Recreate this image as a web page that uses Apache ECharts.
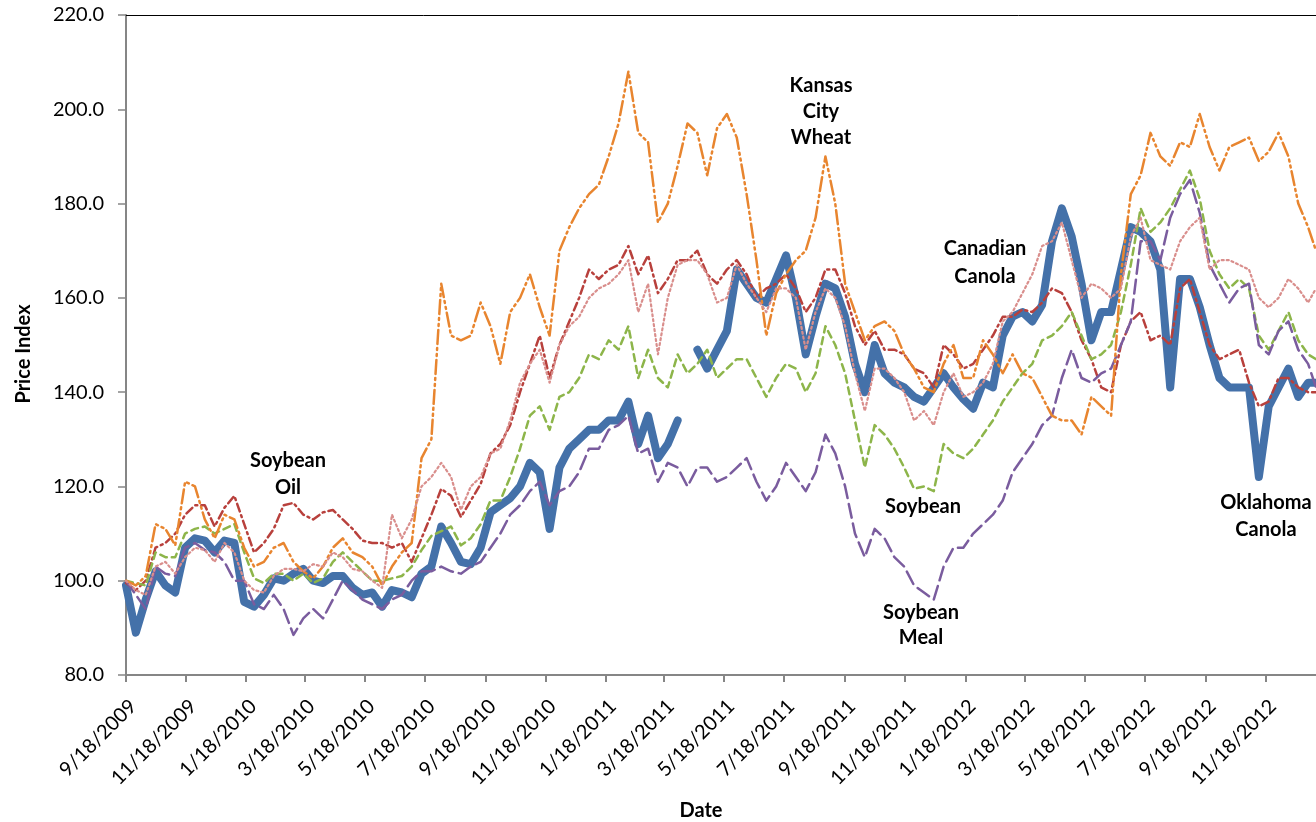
<!DOCTYPE html>
<html><head><meta charset="utf-8">
<script src="https://cdn.jsdelivr.net/npm/echarts@6/dist/echarts.min.js"></script>
<style>html,body{margin:0;padding:0;background:#fff}#c{width:1316px;height:822px}</style>
</head><body><div id="c"></div>
<script>
const dates = ['2009-09-18','2009-09-28','2009-10-08','2009-10-18','2009-10-28','2009-11-07','2009-11-17','2009-11-27','2009-12-07','2009-12-17','2009-12-27',
'2010-01-06','2010-01-16','2010-01-26','2010-02-05','2010-02-15','2010-02-25','2010-03-07','2010-03-17','2010-03-27','2010-04-06','2010-04-16','2010-04-26','2010-05-06','2010-05-16','2010-05-26','2010-06-05','2010-06-15','2010-06-25','2010-07-05','2010-07-15','2010-07-25','2010-08-04','2010-08-14','2010-08-24','2010-09-03','2010-09-13','2010-09-23','2010-10-03','2010-10-13','2010-10-23','2010-11-02','2010-11-12','2010-11-22','2010-12-02','2010-12-12','2010-12-22',
'2011-01-01','2011-01-11','2011-01-21','2011-01-31','2011-02-10','2011-02-20','2011-03-02','2011-03-12','2011-03-22','2011-04-01','2011-04-11','2011-04-21','2011-05-01','2011-05-11','2011-05-21','2011-05-31','2011-06-10','2011-06-20','2011-06-30','2011-07-10','2011-07-20','2011-07-30','2011-08-09','2011-08-19','2011-08-29','2011-09-08','2011-09-18','2011-09-28','2011-10-08','2011-10-18','2011-10-28','2011-11-07','2011-11-17','2011-11-27','2011-12-07','2011-12-17','2011-12-27',
'2012-01-06','2012-01-16','2012-01-26','2012-02-05','2012-02-15','2012-02-25','2012-03-06','2012-03-16','2012-03-26','2012-04-05','2012-04-15','2012-04-25','2012-05-05','2012-05-15','2012-05-25','2012-06-04','2012-06-14','2012-06-24','2012-07-04','2012-07-14','2012-07-24','2012-08-03','2012-08-13','2012-08-23','2012-09-02','2012-09-12','2012-09-22','2012-10-02','2012-10-12','2012-10-22','2012-11-01','2012-11-11','2012-11-21','2012-12-01','2012-12-11','2012-12-21','2012-12-31','2013-01-08'];

const tickDates = ['2009-09-18','2009-11-18','2010-01-18','2010-03-18','2010-05-18','2010-07-18','2010-09-18','2010-11-18','2011-01-18','2011-03-18','2011-05-18','2011-07-18','2011-09-18','2011-11-18','2012-01-18','2012-03-18','2012-05-18','2012-07-18','2012-09-18','2012-11-18'];

const okCanola = [99,89,96,102,99,97.5,107,109,108.5,106,
108.5,108,95.5,94.5,97,100.5,100,101.5,102.5,100,
99.5,101,101,98.5,97,97.5,94.5,98,97.5,96.5,
101.5,103,111.5,108,104,103.5,107,114.5,116,117.5,
120,125,123,111,124,128,130,132,132,134,
134,138,129,135,126,129,134,null,149,145,
149,153,166,163,160,159,164,169,160,148,
156,163,162,156,146,140,150,144,142,141,
139,138,141,144,141,138.5,136.5,142,141,152,
156,157,155,158.5,172,179,173,163,151,157,
157,166,175,174,172,166,141,164,164,158,
150,143,141,141,141,122,137,141,145,139,
142,142];

const soyOil = [99.5,98,100,107,108,110,114,116,116,111.5,
115.5,118,112,106,108,111,116,116.5,114,113,
114.5,115,113,111,108.5,108,108,107,108,104,
109,114,119.5,118,113.5,117,120.5,127,129,133,
140,146,152,143,150,155,160,166,164,166,
167,171,165,169,161,164,168,168,170,165,
163,166,168,165,160,162,163,165,162,157,
160,166,166,161,154,150,153,149,149,148,
145,144,141,150,148,145,146,149,152,156,
156,157.5,157,159,162,161,157,151,147,141,
140,150,155,157,151,152,150,162,164,157,
150,147,148,149,142,137,138,143,143,141,
140,140];

const soybean = [100,99.5,99,106,105,105,110,111,111.5,110,
111,112,106,100.5,99.5,101.5,101.5,100,101.5,99.5,
100.5,104,106,104,102,100,100,100.5,101,103,
106.5,109.5,110.5,111.5,107.5,109,112,117,117,122,
128,135,137,132,139,140,143,148,147,151,
149,154,143,149,143,141,148,144,146,149,
143,145,147,147,143,139,143,146,145,140,
144,154,150,144,134,124,133,131,128,124,
119.5,120,119,129,127,126,128,131,134,138,
141,144,146,151,152,154,157,152,147,148,
150,157,167,179,174,176,179,183,187,181,
170,165,162,164,162,152,149,153,157,151,
148,147];

const soyMeal = [100,97,94,103,101.5,101,107,108,106.5,106,
104,100,100,95,94,97,94,88.5,92,94,
92,96,100,98,96,95,94,96,97,100,
102,102,103,102,101.5,103,104,107,110,114,
116,119,121,116,119,120,123,128,128,132,
133,135,127,128,121,125,124,120,124,124,
121,122,124,126,121,117,120,125,122,119,
123,131,127,120,110,105,111,109,105,103,
99,97.5,96,103,107,107,110,112,114,117,
123,126,129,133,135,143,149,143,142,144,
145,150,155,172,172,168,177,182,185,178,
167,163,159,162,163,150,148,153,155,149,
146,141];

const kcWheat = [100,99,101,112,111,107.5,121,120,113,109,
114,113,107,103,104,107,108,104,102,100.5,
103,107,109,106,105,103,99,103,106,108,
126,130,163,152,151,152,159,154,146,157,
160,165,158,152,170,175,179,182,184,190,
197,208,195,193,176,180,188,197,195,186,
196,199,194,182,168,152,161,165,168,170,
177,190,180,163,157,151,154,155,153,148,
145,141,140,146,150,143,143,151,148,144,
148,144,143,139,135,134,134,131,139,137,
135,165,182,186,195,190,188,193,192,199,
192,187,192,193,194,189,191,195,190,180,
175,170];

const canCanola = [100,98,97,103,104,101.5,105,107,106.5,104,
108,106,100,98,97.5,101,102.5,102.5,102,103.5,
103,106,105,102.5,102,100,98.5,114,109,113,
120,122,125,122,115,120,122,127,128,134,
142,146,149,142,150,154,156,160,162,163,
165,168,157,163,148,160,167,168,168,165,
159,160,167,163,160,157,162,162,160,149,
157,162,160,154,144,136,145,145,143,140,
134,136,133,140,144,139,140,142,146,155,
157,161,165,171,172,176,168,160,163,162,
160,162,173,177,168,167,166,172,175,177,
166,168,168,167,166,160,158,160,164,162,
159,162];

function ts(s){const p=s.split('-');return new Date(+p[0],+p[1]-1,+p[2]).getTime();}
function mk(vals){return dates.map((d,i)=>[ts(d), vals[i]]);}
function fmtDate(v){const d=new Date(v);return (d.getMonth()+1)+'/'+d.getDate()+'/'+d.getFullYear();}
const tickTs = tickDates.map(ts);
const xMin = ts('2009-09-18'), xMax = ts('2013-01-08');
const FONT = 'Lato';

const chart = echarts.init(document.getElementById('c'), null, {renderer:'canvas'});
function line(name, vals, color, width, type, z){
  return {type:'line', name:name, data:mk(vals), showSymbol:false, symbol:'none', connectNulls:false, z:z,
    lineStyle:{color:color, width:width, type:type, cap:'round', join:'round'}, emphasis:{disabled:true}};
}
chart.setOption({
  animation:false,
  backgroundColor:'#fff',
  grid:{left:126, right:0, top:15, bottom:147},
  xAxis:[{
    type:'value', min:xMin, max:xMax, scale:true,
    axisLine:{show:true, onZero:false, lineStyle:{color:'#868686', width:2}},
    axisTick:{show:true, customValues:tickTs, length:7, lineStyle:{color:'#868686', width:2}},
    axisLabel:{show:true, customValues:tickTs, rotate:45, margin:21, align:'right', verticalAlign:'top',
      fontFamily:FONT, fontSize:20, color:'#000', formatter:fmtDate, hideOverlap:false},
    splitLine:{show:false}
  },{
    type:'value', position:'top', min:xMin, max:xMax, scale:true,
    axisLine:{show:true, onZero:false, lineStyle:{color:'#000', width:1}},
    axisTick:{show:false}, axisLabel:{show:false}, splitLine:{show:false}
  }],
  yAxis:{
    type:'value', min:80, max:220, interval:20,
    axisLine:{show:true, lineStyle:{color:'#868686', width:2}},
    axisTick:{show:true, length:8, lineStyle:{color:'#868686', width:1.5}},
    axisLabel:{margin:22, fontFamily:FONT, fontSize:20, color:'#000', formatter:v=>v.toFixed(1)},
    splitLine:{show:false}
  },
  series:[
    line('Oklahoma Canola', okCanola, '#4471A9', 8, 'solid', 2),
    line('Soybean Oil', soyOil, '#B8403C', 2.5, [8,4,2,4], 3),
    line('Soybean', soybean, '#8DB54A', 2.5, [7,5], 4),
    line('Soybean Meal', soyMeal, '#7A5C9E', 2.5, [14,6], 5),
    line('Kansas City Wheat', kcWheat, '#E8852F', 2.5, [14,4,2,4,2,4], 6),
    line('Canadian Canola', canCanola, '#D98E8C', 2.2, [2,3], 7)
  ],
  graphic:[
    {type:'text', x:24, y:354, rotation:Math.PI/2, style:{text:'Price Index', align:'center', verticalAlign:'middle', font:'bold 20px Lato', fill:'#000'}},
    {type:'text', x:701, y:811, style:{text:'Date', align:'center', verticalAlign:'middle', font:'bold 20px Lato', fill:'#000'}},
    {type:'text', x:288, y:474.5, style:{text:'Soybean\nOil', align:'center', verticalAlign:'middle', font:'bold 20px Lato', lineHeight:27, fill:'#000'}},
    {type:'text', x:821, y:111.5, style:{text:'Kansas\nCity\nWheat', align:'center', verticalAlign:'middle', font:'bold 20px Lato', lineHeight:26, fill:'#000'}},
    {type:'text', x:985, y:263, style:{text:'Canadian\nCanola', align:'center', verticalAlign:'middle', font:'bold 20px Lato', lineHeight:28, fill:'#000'}},
    {type:'text', x:923, y:507, style:{text:'Soybean', align:'center', verticalAlign:'middle', font:'bold 20px Lato', fill:'#000'}},
    {type:'text', x:921, y:625.5, style:{text:'Soybean\nMeal', align:'center', verticalAlign:'middle', font:'bold 20px Lato', lineHeight:25, fill:'#000'}},
    {type:'text', x:1266, y:516.5, style:{text:'Oklahoma\nCanola', align:'center', verticalAlign:'middle', font:'bold 20px Lato', lineHeight:27, fill:'#000'}}
  ]
});
</script>
</body></html>
